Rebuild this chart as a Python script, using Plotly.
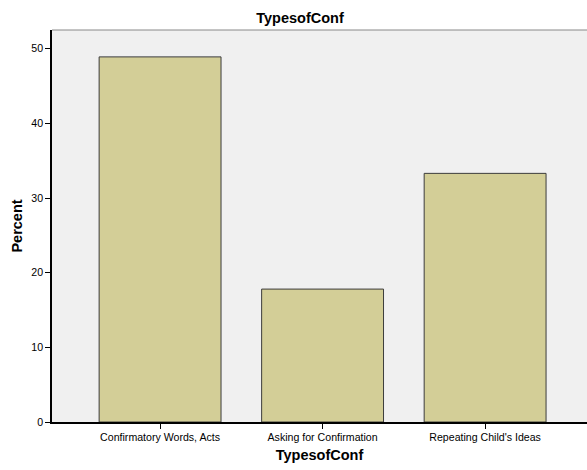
import plotly.graph_objects as go

categories = ["Confirmatory Words, Acts", "Asking for Confirmation", "Repeating Child's Ideas"]
percent = [48.9, 17.8, 33.3]
y_ticks = [0, 10, 20, 30, 40, 50]

fig = go.Figure()
fig.add_trace(go.Bar(
    x=categories, y=percent,
    width=0.75,
    marker=dict(color="#d3ce97", line=dict(color="#3c3c3c", width=1)),
))

fig.update_layout(
    width=587, height=470,
    margin=dict(l=52, r=0, t=30, b=48),
    paper_bgcolor="white",
    plot_bgcolor="#f0f0f0",
    font=dict(family="Liberation Sans, Arial, sans-serif", size=10.6, color="black"),
    showlegend=False,
    title=dict(text="<b>TypesofConf</b>", x=300 / 587, xref="container", xanchor="center",
               y=(470 - 18) / 470, yref="container", yanchor="middle",
               font=dict(size=14.5)),
)
fig.update_xaxes(
    range=[-0.665, 2.627],
    showline=True, linecolor="black", linewidth=1.5,
    ticks="outside", ticklen=5, tickcolor="black",
    title=dict(text="<b>TypesofConf</b>", font=dict(size=14.5), standoff=7),
    showgrid=False,
)
fig.update_yaxes(
    range=[0, 52.5],
    tickvals=y_ticks,
    showline=True, linecolor="black", linewidth=1.5,
    ticks="outside", ticklen=5, tickcolor="black",
    title=dict(text="<b>Percent</b>", font=dict(size=14.5), standoff=5),
    showgrid=False, zeroline=False,
)
fig.add_shape(type="line", xref="paper", yref="paper", x0=0, x1=1, y0=1, y1=1,
              line=dict(color="#888888", width=1))

# drop the browser's default body margin so the figure sits at the page corner
fig.write_html("out.html", config={"displayModeBar": False},
               post_script="document.body.style.margin='0px';"
               "document.body.style.overflow='hidden';")
